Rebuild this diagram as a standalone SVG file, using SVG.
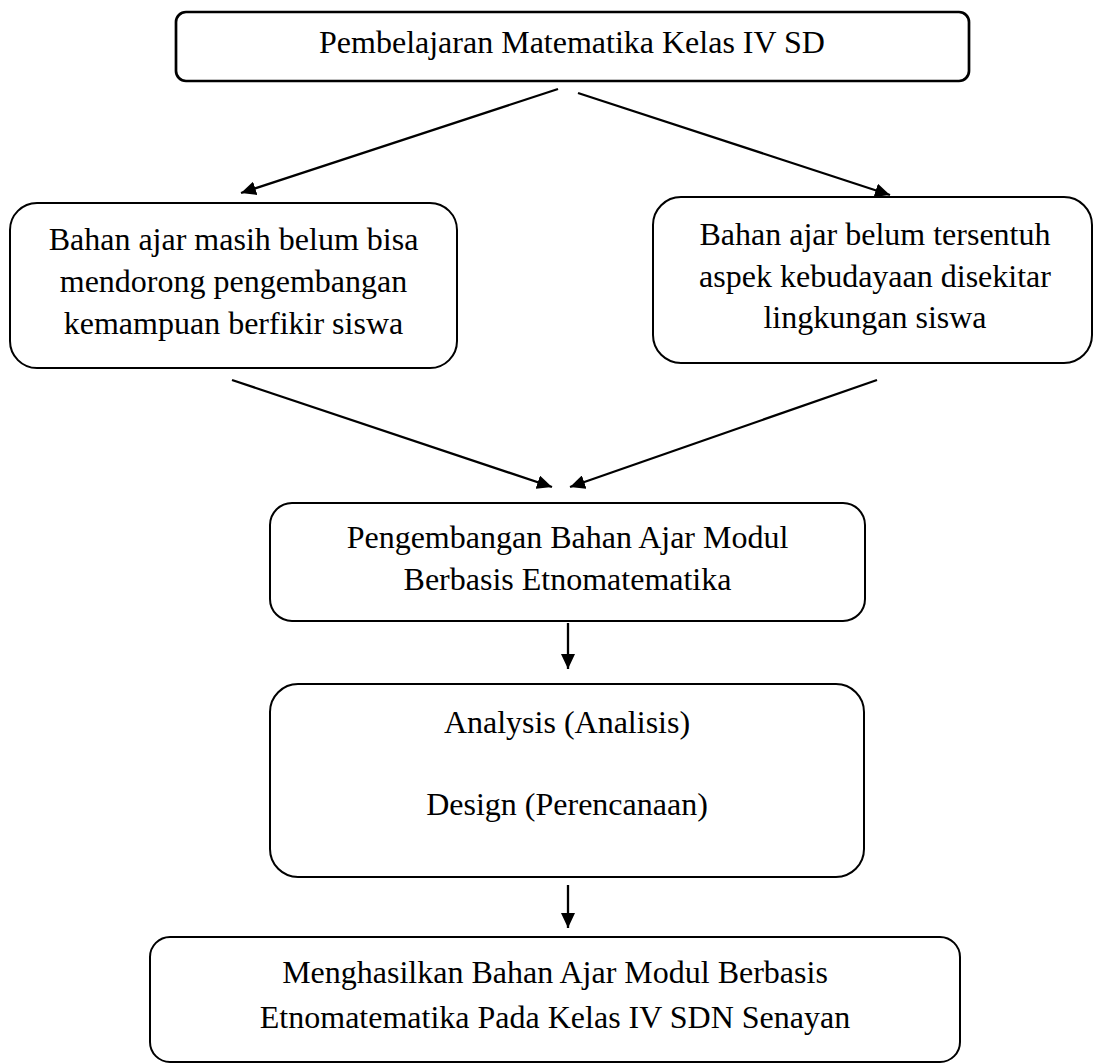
<svg xmlns="http://www.w3.org/2000/svg" width="1094" height="1064" viewBox="0 0 1094 1064">
<style>
.box{fill:#fff;stroke:#000;stroke-width:2}
.top{stroke-width:2.7}
.t{font-family:"Liberation Serif","Times New Roman",serif;font-size:32px;fill:#000;text-anchor:middle}
.c{stroke:#000;stroke-width:2.3;fill:none;marker-end:url(#ah)}
</style>
<defs>
<marker id="ah" markerWidth="16" markerHeight="14" refX="15" refY="7" orient="auto" markerUnits="userSpaceOnUse">
<path d="M0,0 L15,7 L0,14 z" fill="#000"/>
</marker>
</defs>
<rect width="1094" height="1064" fill="#fff"/>
<g id="connectors">
<line class="c" x1="558" y1="89" x2="241" y2="193"/>
<line class="c" x1="578" y1="93" x2="890" y2="195"/>
<line class="c" x1="232" y1="380" x2="552" y2="487"/>
<line class="c" x1="877" y1="380" x2="570" y2="487"/>
<line class="c" x1="568" y1="623" x2="568" y2="669"/>
<line class="c" x1="568" y1="885" x2="568" y2="928"/>
</g>
<g id="n1">
<rect class="box top" x="176" y="12" width="793" height="69" rx="10"/>
<text class="t" x="572" y="53">Pembelajaran Matematika Kelas IV SD</text>
</g>
<g id="n2">
<rect class="box" x="10" y="203" width="447" height="165" rx="27"/>
<text class="t" x="233.5" y="250">Bahan ajar masih belum bisa</text>
<text class="t" x="233.5" y="292">mendorong pengembangan</text>
<text class="t" x="233.5" y="334">kemampuan berfikir siswa</text>
</g>
<g id="n3">
<rect class="box" x="653" y="197" width="439" height="166" rx="28"/>
<text class="t" x="875" y="245">Bahan ajar belum tersentuh</text>
<text class="t" x="875" y="287">aspek kebudayaan disekitar</text>
<text class="t" x="875" y="328">lingkungan siswa</text>
</g>
<g id="n4">
<rect class="box" x="270" y="503" width="595" height="118" rx="22"/>
<text class="t" x="567.5" y="548">Pengembangan Bahan Ajar Modul</text>
<text class="t" x="567.5" y="590">Berbasis Etnomatematika</text>
</g>
<g id="n5">
<rect class="box" x="270" y="684" width="594" height="193" rx="28"/>
<text class="t" x="567" y="733">Analysis (Analisis)</text>
<text class="t" x="567" y="815">Design (Perencanaan)</text>
</g>
<g id="n6">
<rect class="box" x="150" y="937" width="810" height="125" rx="20"/>
<text class="t" x="555" y="983">Menghasilkan Bahan Ajar Modul Berbasis</text>
<text class="t" x="555" y="1028">Etnomatematika Pada Kelas IV SDN Senayan</text>
</g>
</svg>
